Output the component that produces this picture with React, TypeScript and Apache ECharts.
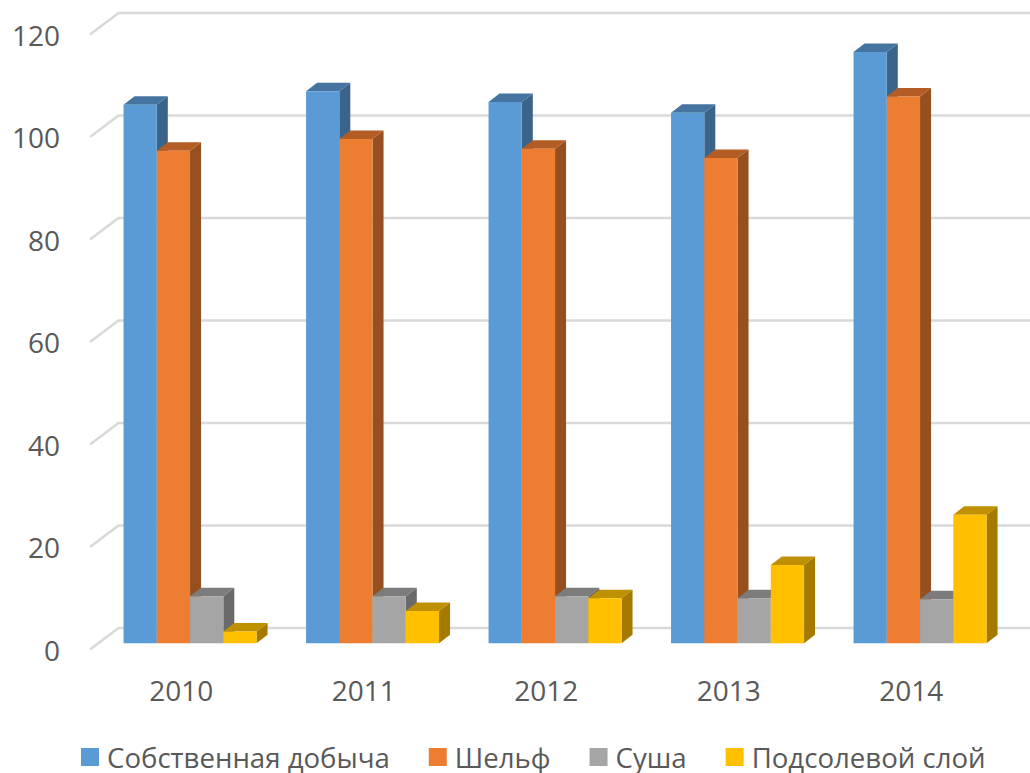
import React, { useEffect, useRef } from "react";
import * as echarts from "echarts";

const years = ["2010", "2011", "2012", "2013", "2014"];
const ownProduction = [105.1, 107.7, 105.6, 103.5, 115.4];
const shelf = [96.1, 98.4, 96.5, 94.7, 106.7];
const land = [9.2, 9.2, 9.2, 8.8, 8.6];
const preSalt = [2.3, 6.3, 8.8, 15.3, 25.1];
const ticks = [0, 20, 40, 60, 80, 100, 120];

const FONT = "'Open Sans', sans-serif";
const TEXT = "#595959";
const DEPTH_X = 11;
const DEPTH_Y = 8.5;
const WALL_X = 28.5;
const WALL_Y = 21.5;
const FLOOR_LIFT = 6.2;
const BAR_W = 33.25;
const CLUSTER_OFFSET = -57.7;

const barSeries = [
  { name: "Собственная добыча", values: ownProduction, front: "#5B9BD5", top: "#44749F", side: "#3A6489" },
  { name: "Шельф", values: shelf, front: "#ED7D31", top: "#B35D24", side: "#964F1E" },
  { name: "Суша", values: land, front: "#A5A5A5", top: "#7C7C7C", side: "#6A6A6A" },
  { name: "Подсолевой слой", values: preSalt, front: "#FFC000", top: "#BF9000", side: "#A47B00" },
];

function App() {
  const ref = useRef<HTMLDivElement>(null);
  useEffect(() => {
    document.body.style.margin = "0";
    const chart = echarts.init(ref.current!, null, { renderer: "svg" });

    const gridSeries = {
      type: "custom",
      name: "grid",
      silent: true,
      z: 1,
      data: ticks.map((t) => [0, t]),
      encode: { x: 0, y: 1 },
      renderItem: (_p: any, api: any) => {
        const v = api.value(1);
        const band = api.size([1, 0])[0];
        const [cx0, y] = api.coord([0, v]);
        const [cx1] = api.coord([years.length - 1, 0]);
        const left = cx0 - band / 2;
        const right = cx1 + band / 2;
        return {
          type: "polyline",
          shape: {
            points: [
              [left, y],
              [left + WALL_X, y - WALL_Y],
              [right + WALL_X, y - WALL_Y],
            ],
          },
          style: { stroke: "#D9D9D9", lineWidth: 2.6, fill: "none" },
        };
      },
    };

    const series = barSeries.map((s, si) => ({
      type: "custom",
      name: s.name,
      z: 2 + si,
      itemStyle: { color: s.front },
      data: s.values.map((v, i) => [i, v]),
      encode: { x: 0, y: 1 },
      renderItem: (_p: any, api: any) => {
        const [cx, yTop0] = api.coord([api.value(0), api.value(1)]);
        const [, yBot0] = api.coord([api.value(0), 0]);
        const x0 = cx + CLUSTER_OFFSET + si * BAR_W;
        const x1 = x0 + BAR_W;
        const yt = yTop0 - FLOOR_LIFT;
        const yb = yBot0 - FLOOR_LIFT;
        return {
          type: "group",
          children: [
            {
              type: "polygon",
              shape: { points: [[x1, yt], [x1 + DEPTH_X, yt - DEPTH_Y], [x1 + DEPTH_X, yb - DEPTH_Y], [x1, yb]] },
              style: { fill: s.side },
            },
            {
              type: "polygon",
              shape: { points: [[x0, yt], [x0 + DEPTH_X, yt - DEPTH_Y], [x1 + DEPTH_X, yt - DEPTH_Y], [x1, yt]] },
              style: { fill: s.top },
            },
            {
              type: "rect",
              shape: { x: x0, y: yt, width: BAR_W, height: yb - yt },
              style: { fill: s.front },
            },
          ],
        };
      },
    }));

    chart.setOption({
      animation: false,
      backgroundColor: "#ffffff",
      grid: { left: 90, top: 34.5, width: 912.5, height: 615, containLabel: false },
      xAxis: {
        type: "category",
        data: years,
        axisLine: { show: false },
        axisTick: { show: false },
        axisLabel: { color: TEXT, fontFamily: FONT, fontSize: 28, margin: 26 },
      },
      yAxis: {
        type: "value",
        min: 0,
        max: 120,
        interval: 20,
        axisLine: { show: false },
        axisTick: { show: false },
        splitLine: { show: false },
        axisLabel: { color: TEXT, fontFamily: FONT, fontSize: 28, margin: 30 },
      },
      legend: {
        data: barSeries.map((s) => s.name),
        left: 81,
        top: 743,
        padding: 0,
        icon: "rect",
        itemWidth: 18,
        itemHeight: 18,
        itemGap: 39,
        textStyle: { color: TEXT, fontFamily: FONT, fontSize: 27.6, lineHeight: 24, padding: [0, 0, 4, 3] },
      },
      series: [gridSeries, ...series],
    });
    return () => chart.dispose();
  }, []);
  return <div ref={ref} style={{ width: 1030, height: 773 }} />;
}

export default App;
